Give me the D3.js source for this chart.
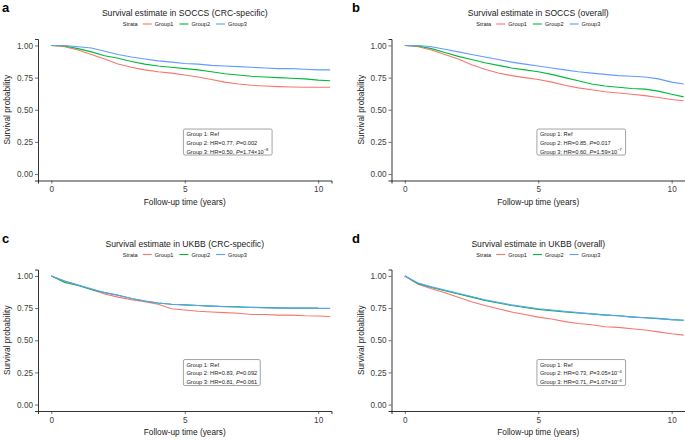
<!DOCTYPE html>
<html>
<head>
<script src="https://cdn.jsdelivr.net/npm/d3@7"></script>
<style>
  body { margin: 0; background: #fff; }
  text { font-family: "Liberation Sans", Arial, sans-serif; }
</style>
</head>
<body>
<script>
// follow-up time points (years) used for all curves
var times = [0, 0.5, 1, 1.5, 2, 2.5, 3, 3.5, 4, 4.5, 5, 5.5, 6, 6.5, 7, 7.5, 8, 8.5, 9, 9.5, 10, 10.45];

var groups = ["Group1", "Group2", "Group3"];
var colors = ["#F8766D", "#00BA38", "#619CFF"];

var yTicks = [0, 0.25, 0.5, 0.75, 1];
var xTicks = [0, 5, 10];

// a: SOCCS CRC-specific
var socccsCrc1 = [1, 0.99, 0.965, 0.93, 0.895, 0.855, 0.83, 0.81, 0.795, 0.785, 0.77, 0.755, 0.735, 0.715, 0.70, 0.69, 0.685, 0.68, 0.677, 0.675, 0.675, 0.675];
var socccsCrc2 = [1, 0.995, 0.975, 0.95, 0.92, 0.90, 0.875, 0.855, 0.84, 0.83, 0.82, 0.81, 0.795, 0.78, 0.77, 0.76, 0.755, 0.75, 0.745, 0.74, 0.73, 0.725];
var socccsCrc3 = [1, 1, 0.99, 0.98, 0.955, 0.93, 0.91, 0.895, 0.88, 0.87, 0.86, 0.855, 0.845, 0.84, 0.835, 0.83, 0.825, 0.82, 0.82, 0.815, 0.81, 0.81];

// b: SOCCS overall
var socccsAll1 = [1, 0.99, 0.965, 0.93, 0.895, 0.85, 0.815, 0.785, 0.765, 0.75, 0.735, 0.715, 0.69, 0.67, 0.655, 0.64, 0.63, 0.62, 0.61, 0.595, 0.58, 0.57];
var socccsAll2 = [1, 0.995, 0.975, 0.945, 0.915, 0.89, 0.865, 0.845, 0.825, 0.81, 0.795, 0.775, 0.75, 0.725, 0.70, 0.685, 0.675, 0.665, 0.66, 0.645, 0.62, 0.60];
var socccsAll3 = [1, 1, 0.99, 0.97, 0.95, 0.93, 0.91, 0.89, 0.87, 0.855, 0.84, 0.825, 0.81, 0.795, 0.785, 0.775, 0.765, 0.76, 0.755, 0.74, 0.715, 0.70];

// c: UKBB CRC-specific
var ukbbCrc1 = [1, 0.96, 0.93, 0.895, 0.86, 0.835, 0.815, 0.80, 0.78, 0.745, 0.735, 0.725, 0.72, 0.715, 0.71, 0.70, 0.70, 0.695, 0.695, 0.69, 0.688, 0.685];
var ukbbCrc2 = [1, 0.95, 0.925, 0.895, 0.87, 0.85, 0.825, 0.805, 0.79, 0.78, 0.775, 0.77, 0.765, 0.762, 0.76, 0.757, 0.755, 0.752, 0.75, 0.75, 0.75, null];
var ukbbCrc3 = [1, 0.96, 0.93, 0.90, 0.87, 0.85, 0.825, 0.805, 0.79, 0.78, 0.775, 0.77, 0.765, 0.76, 0.757, 0.755, 0.752, 0.75, 0.75, 0.75, 0.748, 0.748];

// d: UKBB overall
var ukbbAll1 = [1, 0.935, 0.90, 0.87, 0.835, 0.80, 0.77, 0.745, 0.72, 0.70, 0.68, 0.665, 0.645, 0.63, 0.62, 0.605, 0.60, 0.59, 0.58, 0.565, 0.55, 0.54];
var ukbbAll2 = [1, 0.94, 0.91, 0.885, 0.86, 0.835, 0.81, 0.79, 0.77, 0.755, 0.74, 0.73, 0.72, 0.712, 0.705, 0.697, 0.69, 0.682, 0.675, 0.668, 0.66, 0.655];
var ukbbAll3 = [1, 0.945, 0.915, 0.89, 0.865, 0.84, 0.815, 0.795, 0.775, 0.76, 0.745, 0.735, 0.725, 0.715, 0.705, 0.695, 0.69, 0.68, 0.675, 0.67, 0.66, 0.655];

// hazard ratios and p values (group 2, group 3); p as [mantissa, exponent]
var hrA = ["0.77", "0.50"], pA = [["0.002"], ["1.74", "-8"]];
var hrB = ["0.85", "0.60"], pB = [["0.017"], ["1.59", "-7"]];
var hrC = ["0.83", "0.81"], pC = [["0.092"], ["0.061"]];
var hrD = ["0.73", "0.71"], pD = [["3.05", "-4"], ["1.07", "-4"]];

var width = 685, height = 441;

var svg = d3.select("body").append("svg")
    .attr("width", width)
    .attr("height", height);

function drawPanel(p) {
  var x = d3.scaleLinear().domain([-0.5, 10.5]).range([p.x0, p.x1]);
  var y = d3.scaleLinear().domain([-0.05, 1.05]).range([p.y0, p.y0 - 141.5]);
  var g = svg.append("g");

  // panel letter
  g.append("text")
    .attr("x", p.lx).attr("y", y(1.05) - 27)
    .attr("font-size", "13px").attr("font-weight", "bold")
    .text(p.letter);

  var cx = (p.x0 + p.x1) / 2;
  g.append("text")
    .attr("x", cx).attr("y", y(1.05) - 23)
    .attr("text-anchor", "middle")
    .attr("font-size", "8.6px").attr("fill", "#1a1a1a")
    .text(p.title);

  // legend
  var leg = g.append("g");
  var lx = 0;
  leg.append("text").attr("x", 0).attr("y", 0).attr("font-size", "5.6px").attr("fill", "#1a1a1a").text("Strata");
  lx = 20;
  groups.forEach(function(name, i) {
    leg.append("line").attr("x1", lx).attr("x2", lx + 9).attr("y1", -2).attr("y2", -2)
      .attr("stroke", colors[i]).attr("stroke-width", 1.1);
    var t = leg.append("text").attr("x", lx + 12).attr("y", 0).attr("font-size", "5.6px").attr("fill", "#1a1a1a").text(name);
    lx += 12 + t.node().getComputedTextLength() + 6;
  });
  var lw = lx - 6;
  leg.attr("transform", "translate(" + (cx - lw / 2) + "," + (y(1.05) - 13) + ")");

  // axes
  var yAxis = d3.axisLeft(y).tickValues(yTicks).tickFormat(d3.format(".2f")).tickSize(3).tickPadding(2);
  var xAxis = d3.axisBottom(x).tickValues(xTicks).tickSize(3).tickPadding(3);

  var ya = g.append("g").attr("transform", "translate(" + p.x0 + ",0)").call(yAxis);
  var xa = g.append("g").attr("transform", "translate(0," + p.y0 + ")").call(xAxis);
  [ya, xa].forEach(function(a) {
    a.select(".domain").attr("stroke", "#000").attr("stroke-width", 0.8);
    a.selectAll(".tick line").attr("stroke", "#333").attr("stroke-width", 0.7);
    a.selectAll(".tick text").attr("font-size", "8.2px").attr("fill", "#3d3d3d")
      .attr("font-family", "Liberation Sans, Arial, sans-serif");
  });

  g.append("text")
    .attr("transform", "translate(" + (p.x0 - 28) + "," + ((y(1.05) + p.y0) / 2) + ") rotate(-90)")
    .attr("text-anchor", "middle").attr("font-size", "8.3px").attr("fill", "#1a1a1a")
    .text("Survival probability");
  g.append("text")
    .attr("x", cx).attr("y", p.y0 + 24)
    .attr("text-anchor", "middle").attr("font-size", "8.3px").attr("fill", "#1a1a1a")
    .text("Follow-up time (years)");

  // curves
  var line = d3.line()
    .defined(function(d) { return d[1] != null; })
    .x(function(d) { return x(d[0]); })
    .y(function(d) { return y(d[1]); });
  p.series.forEach(function(vals, i) {
    g.append("path")
      .datum(times.map(function(t, j) { return [t, vals[j]]; }))
      .attr("fill", "none").attr("stroke", colors[i]).attr("stroke-width", 1.1)
      .attr("d", line);
  });

  // annotation box
  var bx = x(4.95), by = y(0.35);
  var box = g.append("g");
  var rect = box.append("rect");
  var lines = [[{t: "Group 1: Ref"}]];
  for (var k = 0; k < 2; k++) {
    var parts = [{t: "Group " + (k + 2) + ": HR=" + p.hr[k] + ", "}, {t: "P", it: true}, {t: "=" + p.pv[k][0]}];
    if (p.pv[k].length > 1) {
      parts[2].t += "\u00d710";
      parts.push({t: "\u2212" + p.pv[k][1].replace("-", ""), sup: true});
    }
    lines.push(parts);
  }
  lines.forEach(function(parts, li) {
    var t = box.append("text").attr("x", bx + 3).attr("y", by + 7 + li * 8.8)
      .attr("font-size", "5.7px").attr("fill", "#1a1a1a");
    parts.forEach(function(pt) {
      var s = t.append("tspan").text(pt.t);
      if (pt.it) s.attr("font-style", "italic");
      if (pt.sup) s.attr("font-size", "4px").attr("dy", "-2.2");
    });
  });
  var bb = box.node().getBBox();
  rect.attr("x", bx).attr("y", by).attr("rx", 1.5)
    .attr("width", bb.x + bb.width - bx + 3).attr("height", 26)
    .attr("fill", "#fff").attr("stroke", "#666").attr("stroke-width", 0.6);
}

drawPanel({letter: "a", lx: 2, title: "Survival estimate in SOCCS (CRC-specific)", x0: 38, x1: 331.5, y0: 180.5,
  series: [socccsCrc1, socccsCrc2, socccsCrc3], hr: hrA, pv: pA});
drawPanel({letter: "b", lx: 352, title: "Survival estimate in SOCCS (overall)", x0: 391.5, x1: 685, y0: 180.5,
  series: [socccsAll1, socccsAll2, socccsAll3], hr: hrB, pv: pB});
drawPanel({letter: "c", lx: 2, title: "Survival estimate in UKBB (CRC-specific)", x0: 38, x1: 331.5, y0: 411,
  series: [ukbbCrc1, ukbbCrc2, ukbbCrc3], hr: hrC, pv: pC});
drawPanel({letter: "d", lx: 352, title: "Survival estimate in UKBB (overall)", x0: 391.5, x1: 685, y0: 411,
  series: [ukbbAll1, ukbbAll2, ukbbAll3], hr: hrD, pv: pD});
</script>
</body>
</html>
